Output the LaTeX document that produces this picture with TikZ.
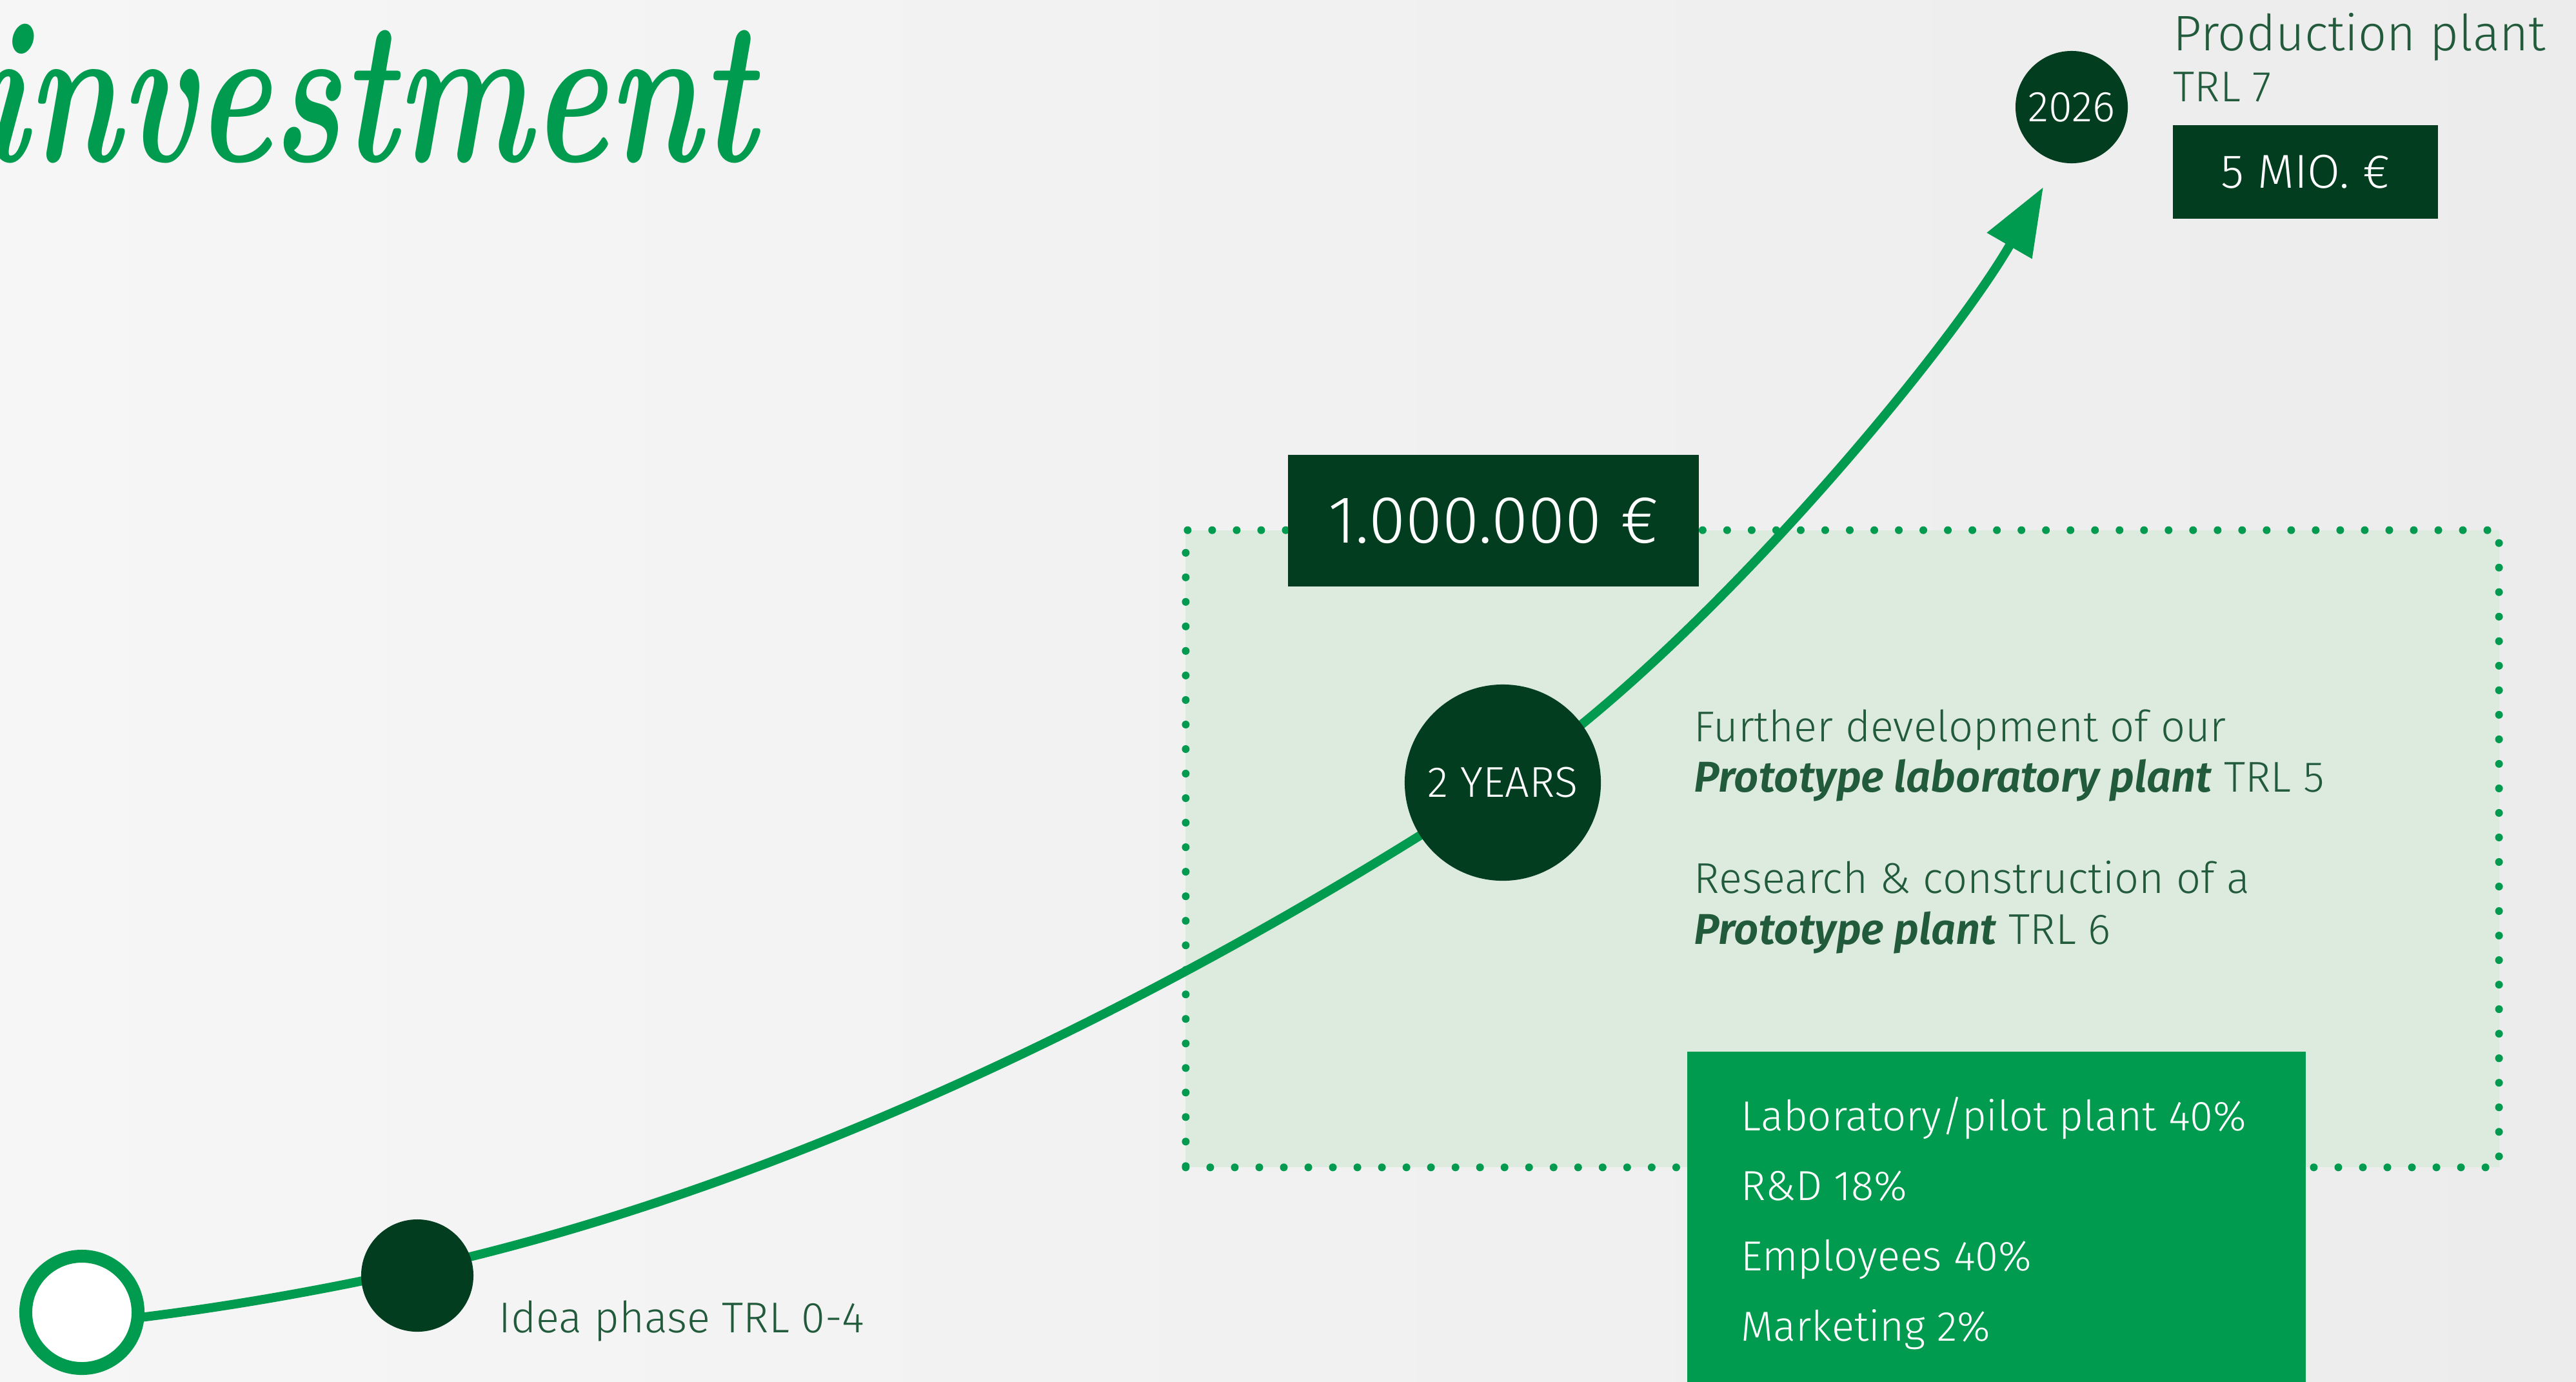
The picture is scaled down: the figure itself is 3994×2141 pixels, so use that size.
\documentclass[tikz,border=0pt]{standalone}
\usepackage{fontspec}
\usepackage{graphicx}
\usetikzlibrary{arrows.meta}
\newfontfamily\fira{Fira Sans}[UprightFont=* Light, ItalicFont=* Light Italic, BoldFont=* SemiBold, BoldItalicFont=* SemiBold Italic]
\definecolor{dkgreen}{RGB}{2,61,32}
\definecolor{txtgreen}{RGB}{34,90,60}
\definecolor{brgreen}{RGB}{0,155,78}
\definecolor{lightfill}{RGB}{221,235,222}
\definecolor{bgone}{RGB}{246,246,246}
\definecolor{bgtwo}{RGB}{236,236,236}
\newcommand\myfs[1]{\fontsize{#1}{#1}\selectfont}
\begin{document}
\begin{tikzpicture}[x=0.01cm,y=-0.01cm,
  dotnode/.style={circle, fill=dkgreen, text=white, inner sep=0pt, font=\fira\myfs{19pt}},
  ringnode/.style={circle, draw=brgreen, line width=0.2cm, fill=white, inner sep=0pt, minimum size=1.74cm},
  darkbox/.style={rectangle, fill=dkgreen, text=white, inner sep=0pt, font=\fira\myfs{20pt}},
  phasebox/.style={rectangle, fill=lightfill, draw=brgreen, line width=0.12cm, line cap=round, dash pattern=on 0pt off 0.38cm, inner sep=0pt},
  greenbox/.style={rectangle, fill=brgreen, inner sep=0pt},
  plain/.style={anchor=base west, inner sep=0pt, text=txtgreen, font=\fira\myfs{19pt}},
  whitetxt/.style={anchor=base west, inner sep=0pt, text=white, font=\fira\myfs{18.5pt}},
  curve/.style={draw=brgreen, line width=0.14cm, -{Triangle[length=1.05cm, width=0.77cm]}}
]
\useasboundingbox (0,0) rectangle (3994,2141);
\begin{scope}
\clip (0,0) rectangle (3994,2141);
\shade[left color=bgone, right color=bgtwo] (0,0) rectangle (3994,2141);

% title
\node[anchor=base east, inner sep=0pt, text=brgreen] (title) at (1172,250)
  {\scalebox{0.70}[1]{\bfseries\itshape\myfs{90pt}investment}};

% phase area
\node[phasebox, minimum width=20.35cm, minimum height=9.87cm] (phase) at (2856.5,1315.5) {};

% nodes on curve
\node[dotnode, minimum size=1.74cm] (year) at (3212,166) {2026};
\coordinate (s0) at (127,2052);
\coordinate (q2) at (647,1967);
\coordinate (tip) at (3168,290);
\coordinate (yc) at (2330,1213);

\draw[curve] (s0) .. controls (300,2035) and (481,2004) .. (q2)
  .. controls (1200,1845) and (1800,1560) .. (yc)
  .. controls (2624,1022) and (3018,550) .. (tip);

\node[ringnode] (start) at (127,2034) {};
\node[dotnode, minimum size=1.74cm] (idea) at (647,1977) {};
\node[dotnode, minimum size=3.04cm] (years) at (yc) {2 YEARS};

% boxes
\node[darkbox, minimum width=6.37cm, minimum height=2.04cm, font=\fira\myfs{29.5pt}] (money) at (2315.5,807) {\raisebox{-0.1cm}{1.000.000 €}};
\node[darkbox, minimum width=4.11cm, minimum height=1.45cm, font=\fira\myfs{21pt}] (mio) at (3574.5,266.5) {\raisebox{-0.08cm}{5 MIO. €}};
\node[greenbox, minimum width=9.59cm, minimum height=5.4cm] (budget) at (3095.5,1900) {};

% texts
\node[plain] (ideatxt) at (773,2065) {Idea phase TRL 0-4};
\node[plain, font=\fira\myfs{22pt}] (prod) at (3369,78) {Production plant};
\node[plain] (trl7) at (3369,157) {TRL 7};
\node[plain] (f1) at (2626,1149) {Further development of our};
\node[plain] (f2) at (2626,1227) {\textbf{\textit{Prototype laboratory plant}} TRL 5};
\node[plain] (f3) at (2626,1384) {Research \& construction of a};
\node[plain] (f4) at (2626,1463) {\textbf{\textit{Prototype plant}} TRL 6};
\node[whitetxt] (b1) at (2699,1752) {Laboratory/pilot plant 40\%};
\node[whitetxt] (b2) at (2699,1860) {R\&D 18\%};
\node[whitetxt] (b3) at (2699,1969) {Employees 40\%};
\node[whitetxt] (b4) at (2699,2078) {Marketing 2\%};
\end{scope}
\end{tikzpicture}
\end{document}
